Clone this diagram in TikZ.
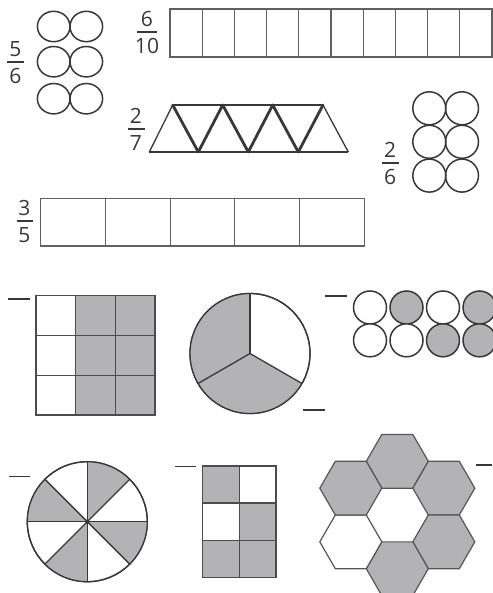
\documentclass[tikz,border=0pt]{standalone}
\usepackage{fontspec}
\setmainfont{Open Sans}
\usetikzlibrary{shapes.geometric}
\definecolor{ln}{HTML}{383838}
\definecolor{sh}{HTML}{B3B3B5}
\definecolor{bx}{HTML}{606060}
\tikzset{
  txt/.style={font=\fontsize{21}{21}\selectfont, text=ln, inner sep=0pt},
  fracbar/.style={draw=ln, line width=1.5pt},
  ring/.style={draw=ln, line width=1.5pt, circle, minimum size=33pt, inner sep=0pt, outer sep=0pt},
  oval/.style={draw=ln, line width=1.5pt, ellipse, minimum width=32.6pt, minimum height=30.4pt, inner sep=0pt, outer sep=0pt},
  barcell/.style={draw=bx, line width=1.2pt, rectangle, inner sep=0pt, outer sep=0pt},
  gridcell/.style={draw=ln!90, line width=1.3pt, rectangle, inner sep=0pt, outer sep=0pt},
  dashmark/.style={draw=ln, line width=1.5pt},
  thinedge/.style={draw=ln, line width=1.3pt},
  thickedge/.style={draw=ln, line width=2.8pt, line join=round, line cap=round},
  hexcell/.style={draw=ln!85, line width=1.2pt, regular polygon, regular polygon sides=6, minimum size=62pt, inner sep=0pt, outer sep=0pt},
  bigdisc/.style={draw=ln, line width=1.3pt, circle, minimum size=120pt, inner sep=0pt, outer sep=0pt},
}
\newcommand{\fracnode}[6]{%
  \node[txt, anchor=base] (#1n) at (#2,#3-5.5) {#4};
  \node[txt, anchor=base] (#1d) at (#2,#3+21.5) {#5};
  \draw[fracbar] (#2-#6,#3) -- (#2+#6,#3);
}
\begin{document}
\begin{tikzpicture}[x=1pt,y=-1pt]
\useasboundingbox (0,0) rectangle (492,593);
\fill[white] (0,0) rectangle (492,593);

% 5/6 with six ovals
\fracnode{fa}{15.5}{62}{5}{6}{8.5}
\foreach \r/\yy in {1/26.5,2/61.7,3/98.7}{
  \node[oval] (oa\r) at (53.7,\yy) {};
  \node[oval] (ob\r) at (86.3,\yy) {};
}

% 6/10 bar
\fracnode{fb}{147}{32}{6}{10}{10}
\foreach \i in {0,...,9}{
  \node[barcell, minimum width=32.2pt, minimum height=48pt] (t\i) at (170+16.1+32.2*\i,33) {};
}

% 2/7 triangles
\fracnode{fc}{136}{129}{2}{7}{8.5}
\coordinate (T1) at (172.7,105);
\coordinate (T2) at (222.7,105);
\coordinate (T3) at (272.7,105);
\coordinate (T4) at (323,105);
\coordinate (B0) at (149.3,152);
\coordinate (B1) at (198.3,152);
\coordinate (B2) at (248.3,152);
\coordinate (B3) at (298.3,152);
\coordinate (B4) at (348.3,152);
\draw[thinedge] (B0) -- (B4);
\draw[thinedge] (T1) -- (T4);
\draw[thinedge] (B0) -- (T1);
\draw[thinedge] (T4) -- (B4);
\draw[thickedge] (T1) -- (B1) -- (T2) -- (B2) -- (T3) -- (B3) -- (T4);

% 2/6 circles
\fracnode{fd}{390}{163}{2}{6}{8.5}
\foreach \r/\yy in {1/108.3,2/141.8,3/175.6}{
  \node[ring] (ra\r) at (429.3,\yy) {};
  \node[ring] (rb\r) at (462,\yy) {};
}

% 3/5 bar
\fracnode{fe}{24.5}{221}{3}{5}{8}
\foreach \i in {0,...,4}{
  \node[barcell, minimum width=64.7pt, minimum height=47.7pt] (f\i) at (40.7+32.35+64.7*\i,222.2) {};
}

% 3x3 grid
\draw[dashmark] (8,299) -- (30,299);
\foreach \c in {0,1,2}{
  \foreach \r in {0,1,2}{
    \ifnum\c=0
      \node[gridcell, fill=white, minimum width=39.7pt, minimum height=39.8pt] (g\c\r) at (36+19.85+39.7*\c,295.7+19.9+39.8*\r) {};
    \else
      \node[gridcell, fill=sh, minimum width=39.7pt, minimum height=39.8pt] (g\c\r) at (36+19.85+39.7*\c,295.7+19.9+39.8*\r) {};
    \fi
  }
}

% pie in thirds
\node[bigdisc] (pie) at (250,353.5) {};
\fill[sh] (pie.center) -- (pie.90) arc[start angle=90, end angle=330, radius=60pt] -- cycle;
\node[bigdisc] at (pie.center) {};
\draw[thinedge] (pie.center) -- (pie.90);
\draw[thinedge] (pie.center) -- (pie.210);
\draw[thinedge] (pie.center) -- (pie.330);
\draw[dashmark] (303,410) -- (325,410);

% row of circles
\draw[dashmark] (325,296) -- (347,296);
\foreach \i/\xx/\fa/\fb in {1/370/white/white,2/406.5/sh/white,3/443/white/sh,4/479.5/sh/sh}{
  \node[ring, fill=\fa] (ca\i) at (\xx,307.5) {};
  \node[ring, fill=\fb] (cb\i) at (\xx,340.3) {};
}

% eighths wheel
\draw[dashmark] (9,476.7) -- (30,476.7);
\node[bigdisc] (wheel) at (87.3,521.7) {};
\foreach \a in {45,135,225,315}{
  \fill[sh] (wheel.center) -- (wheel.\a) arc[start angle=\a, end angle=\a+45, radius=60pt] -- cycle;
}
\node[bigdisc] at (wheel.center) {};
\foreach \a/\b in {0/180,45/225,90/270,135/315}{
  \draw[thinedge] (wheel.\a) -- (wheel.\b);
}
\fill[ln] (wheel.center) circle[radius=2.2pt];

% 2x3 grid
\draw[dashmark] (175,466.7) -- (196,466.7);
\foreach \c/\r/\col in {0/0/sh,1/0/white,0/1/white,1/1/sh,0/2/sh,1/2/sh}{
  \node[gridcell, fill=\col, minimum width=36.65pt, minimum height=37.1pt] (s\c\r) at (202.7+18.33+36.65*\c,466+18.55+37.1*\r) {};
}

% hexagons
\foreach \n/\xx/\yy/\col in {1/397.3/461.3/sh,2/443.8/488.15/sh,3/443.8/541.85/sh,4/397.3/568.7/sh,5/350.8/541.85/white,6/350.8/488.15/sh}{
  \node[hexcell, fill=\col] (h\n) at (\xx,\yy) {};
}
\draw[dashmark] (476,465) -- (492,465);
\end{tikzpicture}
\end{document}
